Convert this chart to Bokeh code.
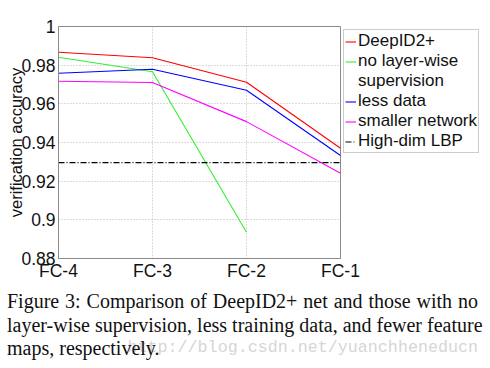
from bokeh.plotting import figure
from bokeh.models import Legend, LegendItem, FixedTicker, Div
from bokeh.layouts import column
from bokeh.embed import file_html
from bokeh.resources import INLINE

# ---- data ----
categories = ["FC-4", "FC-3", "FC-2", "FC-1"]
deepid2p = [0.9867, 0.9838, 0.9712, 0.9370]
no_layerwise = [0.9841, 0.9766, 0.8936]
less_data = [0.9758, 0.9779, 0.9670, 0.9333]
smaller_net = [0.9717, 0.9710, 0.9508, 0.9241]
lbp_value = 0.9296

y_ticks = [0.88, 0.9, 0.92, 0.94, 0.96, 0.98, 1.0]
y_tick_labels = ["0.88", "0.9", "0.92", "0.94", "0.96", "0.98", "1"]

caption_lines = [
    "Figure 3: Comparison of DeepID2+ net and those with no",
    "layer-wise supervision, less training data, and fewer feature",
    "maps, respectively.",
]
watermark = "http://blog.csdn.net/yuanchheneducn"

xs = list(range(len(categories)))

p = figure(frame_width=282, frame_height=232,
           min_border_left=58, min_border_right=150,
           min_border_top=26, min_border_bottom=28,
           x_range=(xs[0], xs[-1]), y_range=(y_ticks[0], y_ticks[-1]),
           output_backend="svg", toolbar_location=None)
p.background_fill_color = "white"
p.border_fill_color = "white"
p.outline_line_color = "#8a8a8a"
p.outline_line_width = 1

# axes
p.xaxis.ticker = FixedTicker(ticks=xs)
p.xaxis.major_label_overrides = {x: c for x, c in zip(xs, categories)}
p.yaxis.ticker = FixedTicker(ticks=y_ticks)
p.yaxis.major_label_overrides = {t: l for t, l in zip(y_ticks, y_tick_labels)}
for ax in (p.xaxis, p.yaxis):
    ax.major_label_text_font = "Liberation Sans"
    ax.major_label_text_font_size = "17.5px"
    ax.major_label_text_color = "#111111"
    ax.axis_line_color = "#8a8a8a"
    ax.major_tick_in = 0
    ax.major_tick_out = 0
    ax.minor_tick_in = 0
    ax.minor_tick_out = 0
p.xaxis.major_label_standoff = 2
p.yaxis.major_label_standoff = 3
p.yaxis.axis_label = "verification accuracy"
p.yaxis.axis_label_text_font = "Liberation Sans"
p.yaxis.axis_label_text_font_size = "16.5px"
p.yaxis.axis_label_text_font_style = "normal"
p.yaxis.axis_label_text_color = "#111111"
p.yaxis.axis_label_standoff = -7

# grid
for g in (p.xgrid, p.ygrid):
    g.grid_line_color = "#b8b8b8"
    g.grid_line_dash = "1 2"
    g.grid_line_width = 1

# series
r1 = p.line(xs, deepid2p, line_color="#ff0000", line_width=1.1)
r2 = p.line(xs[:len(no_layerwise)], no_layerwise, line_color="#33ee33", line_width=1.1)
r3 = p.line(xs, less_data, line_color="#0000ff", line_width=1.1)
r4 = p.line(xs, smaller_net, line_color="#ff00ff", line_width=1.1)
r5 = p.line(xs, [lbp_value] * len(xs), line_color="#000000", line_width=1.1,
            line_dash="6 2 1 2")
r_blank = p.line([], [], line_alpha=0)

legend = Legend(items=[
    LegendItem(label="DeepID2+", renderers=[r1]),
    LegendItem(label="no layer-wise", renderers=[r2]),
    LegendItem(label="supervision", renderers=[r_blank]),
    LegendItem(label="less data", renderers=[r3]),
    LegendItem(label="smaller network", renderers=[r4]),
    LegendItem(label="High-dim LBP", renderers=[r5]),
], location="top_left")
legend.margin = 3
legend.padding = 1
legend.spacing = 0
legend.glyph_width = 11
legend.glyph_height = 19
legend.label_height = 19
legend.label_standoff = 2
legend.label_text_font = "Liberation Sans"
legend.label_text_font_size = "17px"
legend.label_text_color = "#111111"
legend.border_line_color = "#999999"
legend.border_line_width = 1
legend.background_fill_color = "white"
legend.background_fill_alpha = 1.0
p.add_layout(legend, "right")

# caption below the chart (justified lines, watermark behind)
wm_html = ('<span style="position:absolute; right:12px; top:54px; '
           'font-family:\'Liberation Mono\'; font-size:16.7px; line-height:16.7px; '
           'color:#d6d6d6; white-space:nowrap; z-index:0;">%s</span>' % watermark)
line_divs = []
for i, line in enumerate(caption_lines):
    if i < len(caption_lines) - 1:
        style = "width:471px; text-align:justify; text-align-last:justify;"
    else:
        style = "text-align:left;"
    line_divs.append('<div style="%s white-space:nowrap;">%s</div>' % (style, line))
cap_html = ('<div style="position:relative; z-index:1; padding:4px 0 0 7px; '
            'font-family:\'Liberation Serif\'; font-size:20px; line-height:23.5px; '
            'color:#111111;">%s</div>' % "".join(line_divs))
caption = Div(text='<div style="position:relative; width:490px; height:82px;">'
                   + wm_html + cap_html + '</div>',
              width=490, height=82, margin=(0, 0, 0, 0))

layout = column(p, caption, spacing=0)
open("out.html", "w").write(file_html(layout, INLINE))
